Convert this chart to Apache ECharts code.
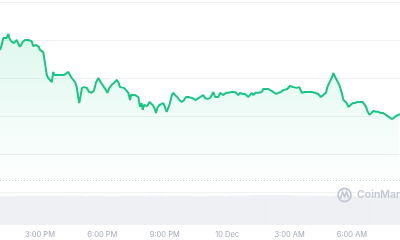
<!DOCTYPE html>
<html>
<head>
<meta charset="utf-8">
<script src="https://cdn.jsdelivr.net/npm/echarts@6/dist/echarts.min.js"></script>
<style>
html,body{margin:0;padding:0;background:#fff;}
#chart{width:400px;height:240px;}
</style>
</head>
<body>
<div id="chart"></div>
<script>
// Hours since 00:00 on 9 Dec
const times = [13.08,13.16,13.24,13.32,13.40,13.48,13.53,13.61,13.69,13.75,13.80,13.88,13.96,14.04,14.09,14.17,14.28,14.36,14.44,14.52,14.60,14.68,14.73,14.80,14.87,14.95,15.00,15.08,15.16,15.24,15.33,15.40,15.48,15.57,15.64,15.69,15.77,15.84,15.93,16.01,16.09,16.16,16.25,16.36,16.45,16.53,16.60,16.69,16.77,16.84,16.89,16.96,17.02,17.12,17.25,17.37,17.49,17.60,17.70,17.81,17.89,17.97,18.08,18.18,18.24,18.34,18.45,18.56,18.69,18.77,18.85,18.93,19.04,19.14,19.25,19.33,19.38,19.46,19.57,19.65,19.73,19.81,19.89,19.94,20.00,20.09,20.16,20.26,20.33,20.42,20.50,20.58,20.64,20.74,20.82,20.93,21.01,21.09,21.17,21.25,21.34,21.41,21.49,21.60,21.70,21.82,21.93,22.02,22.13,22.22,22.34,22.46,22.57,22.70,22.78,22.85,22.94,23.05,23.18,23.26,23.34,23.42,23.50,23.58,23.66,23.74,23.82,23.95,24.06,24.14,24.22,24.30,24.38,24.46,24.54,24.62,24.75,24.86,24.94,25.02,25.10,25.18,25.26,25.37,25.50,25.58,25.66,25.74,25.85,25.98,26.06,26.14,26.22,26.35,26.46,26.58,26.70,26.78,26.89,27.02,27.10,27.18,27.26,27.34,27.47,27.50,27.59,27.66,27.74,27.90,28.07,28.22,28.38,28.50,28.62,28.75,28.82,28.91,28.98,29.06,29.10,29.15,29.22,29.30,29.39,29.51,29.59,29.67,29.75,29.83,29.91,30.04,30.15,30.26,30.39,30.52,30.59,30.68,30.76,30.84,30.92,31.03,31.16,31.27,31.38,31.48,31.56,31.64,31.70,31.78,31.86,31.94,32.02,32.12,32.23,32.31];
const prices = [43.74,43.87,44.05,44.08,44.05,44.16,44.05,43.97,44.00,43.92,43.89,44.00,43.95,43.82,43.87,43.95,44.00,43.97,44.00,44.03,43.97,43.84,43.79,43.87,43.92,43.82,43.74,43.79,43.68,43.71,43.08,43.00,43.05,42.89,43.16,43.08,43.13,43.08,43.13,43.08,43.13,43.08,43.03,43.16,43.13,43.00,43.00,42.89,42.76,42.50,42.34,42.55,42.74,42.76,42.74,42.63,42.61,42.68,42.89,43.00,42.92,42.89,42.76,42.68,42.61,42.74,42.82,42.87,42.95,42.89,42.76,42.74,42.74,42.68,42.61,42.42,42.55,42.55,42.55,42.50,42.50,42.24,42.34,42.16,42.29,42.24,42.26,42.37,42.42,42.29,42.21,42.08,42.21,42.29,42.34,42.34,42.24,42.11,42.21,42.34,42.55,42.61,42.55,42.50,42.42,42.37,42.42,42.50,42.50,42.45,42.47,42.42,42.45,42.50,42.53,42.55,42.47,42.45,42.47,42.55,42.63,42.50,42.45,42.50,42.61,42.61,42.55,42.61,42.61,42.61,42.63,42.68,42.63,42.61,42.55,42.61,42.58,42.58,42.55,42.50,42.50,42.61,42.55,42.61,42.61,42.63,42.63,42.71,42.71,42.71,42.74,42.66,42.61,42.58,42.61,42.63,42.68,42.71,42.71,42.79,42.76,42.76,42.76,42.74,42.76,42.74,42.61,42.66,42.63,42.63,42.63,42.61,42.58,42.50,42.55,42.61,42.76,42.87,42.89,43.05,43.13,43.08,43.00,42.95,42.82,42.61,42.42,42.37,42.34,42.24,42.29,42.34,42.34,42.37,42.37,42.37,42.37,42.24,42.11,42.03,42.08,42.13,42.11,42.11,42.08,42.08,42.08,42.03,42.08,41.97,41.97,41.92,41.97,42.00,42.03,42.05];
const volumeTimes = [13.58,14.58,15.58,16.58,17.58,18.58,19.58,20.58,21.58,22.58,23.58,24.58,25.58,26.58,27.58,28.58,29.58,30.58,31.58,32.58];
const volumes = [90,91,91,92,91,90,91,92,91,90,91,92,93,93,92,91,92,91,90,90];
const tickHours = [15,18,21,24,27,30];
const tickLabels = ['3:00 PM','6:00 PM','9:00 PM','10 Dec','3:00 AM','6:00 AM'];
const refPrice = 40.32;

const priceData = times.map((t,i)=>[t,prices[i]]);
const volData = volumeTimes.map((t,i)=>[t,volumes[i]]);
const xMin = 13.08, xMax = 32.31;

const chart = echarts.init(document.getElementById('chart'), null, {renderer:'canvas'});
chart.setOption({
  animation:false,
  backgroundColor:'#ffffff',
  textStyle:{fontFamily:'Inter'},
  grid:[
    {left:0,right:0,top:2,height:190},
    {left:0,right:0,top:193,height:32}
  ],
  xAxis:[
    {type:'value',gridIndex:0,min:xMin,max:xMax,show:false},
    {type:'value',gridIndex:1,min:xMin,max:xMax,
     axisLine:{show:false},axisTick:{show:false},splitLine:{show:false},
     axisLabel:{customValues:tickHours,color:'#a3a9b6',fontSize:7.5,fontFamily:'Inter',margin:6,
       formatter:function(v){const i=tickHours.indexOf(v);return i>=0?tickLabels[i]:'';}}}
  ],
  yAxis:[
    {type:'value',gridIndex:0,min:40,max:45,interval:1,
     axisLine:{show:false},axisTick:{show:false},axisLabel:{show:false},
     splitLine:{lineStyle:{color:'#eff2f5',width:1}}},
    {type:'value',gridIndex:1,min:0,max:100,show:false,splitLine:{show:false}}
  ],
  series:[
    {type:'bar',xAxisIndex:1,yAxisIndex:1,data:volData,barWidth:21,
     itemStyle:{color:'#eff0f4'},silent:true},
    {type:'line',xAxisIndex:0,yAxisIndex:0,data:priceData,symbol:'none',
     lineStyle:{color:'#16c784',width:2},
     areaStyle:{color:new echarts.graphic.LinearGradient(0,0,0,1,[
       {offset:0,color:'rgba(22,199,132,0.2)'},
       {offset:0.75,color:'rgba(22,199,132,0.04)'},
       {offset:1,color:'rgba(22,199,132,0)'}])},
     markLine:{silent:true,symbol:'none',label:{show:false},
       lineStyle:{color:'#c9ccd3',type:[1,2],width:1},
       data:[{yAxis:refPrice}]}}
  ],
  graphic:[
    {type:'circle',z:100,shape:{cx:344.5,cy:195,r:6.5},style:{fill:'none',stroke:'#c3c8d4',lineWidth:1.8},silent:true},
    {type:'polyline',z:100,shape:{points:[[340.5,198.5],[342.5,192],[344.5,196.5],[346.5,192],[348.5,197.5]]},style:{fill:'none',stroke:'#c3c8d4',lineWidth:1.6},silent:true},
    {type:'text',z:100,x:357,y:195,style:{text:'CoinMarketCap',fill:'#c3c8d4',font:'600 10.5px Inter',textVerticalAlign:'middle',verticalAlign:'middle'},silent:true}
  ]
});
</script>
</body>
</html>
